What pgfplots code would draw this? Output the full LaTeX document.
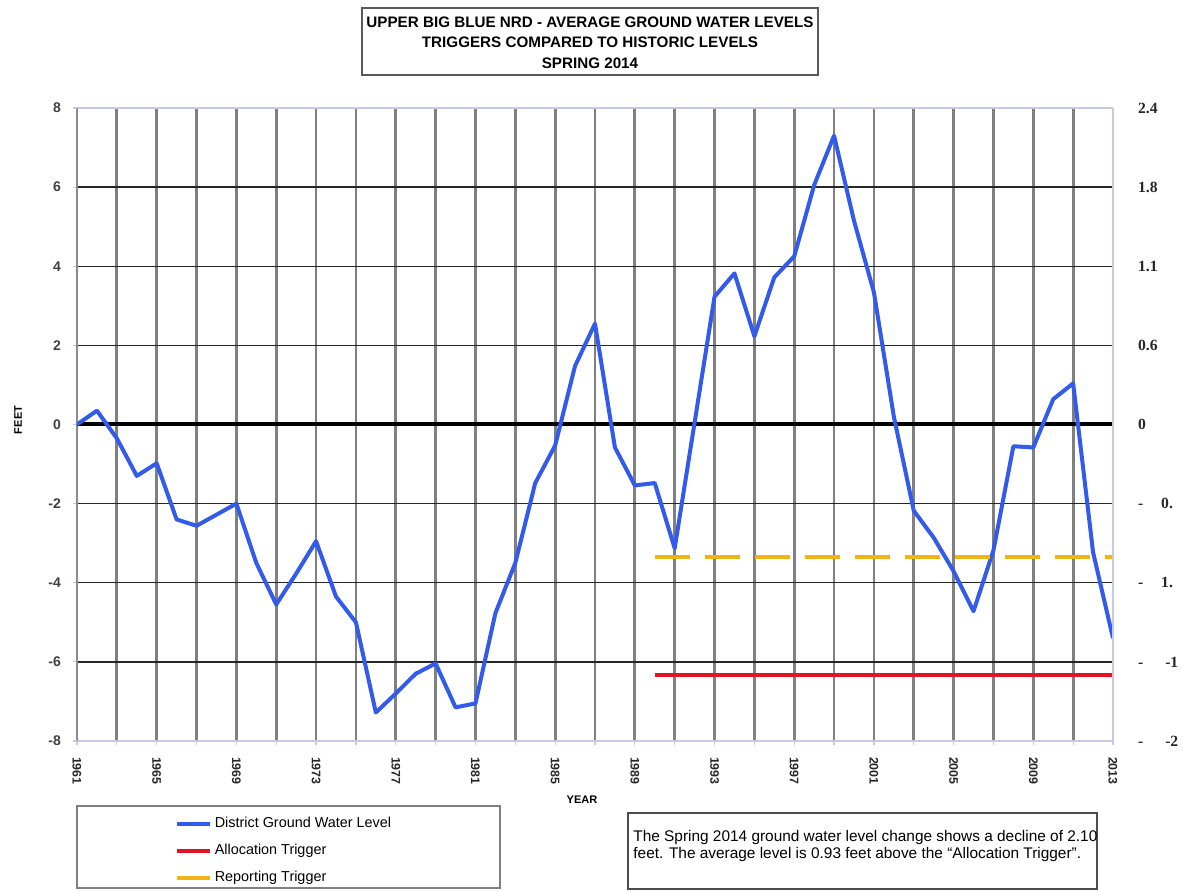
\documentclass[border=0pt]{standalone}
\usepackage{fontspec}
\setmainfont{Liberation Sans}
\newfontfamily\serifb{Liberation Serif}
\usepackage{pgfplots}
\pgfplotsset{compat=1.18}
\definecolor{wblue}{RGB}{50,90,235}
\definecolor{wred}{RGB}{225,20,35}
\definecolor{wgold}{RGB}{240,180,20}
\definecolor{lav}{RGB}{200,200,228}
\begin{document}
\begin{tikzpicture}
\useasboundingbox (0,0) rectangle (591.5pt,445pt);
\begin{axis}[
  at={(38.5pt,74.5pt)}, anchor=south west,
  scale only axis, width=518pt, height=316.5pt,
  xmin=1961, xmax=2013, ymin=-8, ymax=8,
  separate axis lines,
  x axis line style={draw=lav, line width=0.8pt},
  y axis line style={draw=black!45, line width=1pt},
  xtick={1961,1965,...,2013},
  minor xtick={1961,1963,...,2011},
  xmajorgrids=false, xminorgrids=true,
  ytick={-6,-4,...,6},
  extra y ticks={-8,8},
  extra y tick style={ymajorgrids=false},
  ymajorgrids=true,
  major grid style={black!85, line width=0.7pt},
  minor grid style={black!50, line width=1.4pt},
  xtick pos=bottom, ytick pos=left,
  tick align=outside, major tick length=2pt, minor tick length=2pt,
  tick style={draw=lav, line width=0.6pt},
  /pgf/number format/assume math mode=true,
  /pgf/number format/1000 sep={},
  xticklabel style={rotate=-90, anchor=west, font=\bfseries\fontsize{6.2}{7}\selectfont, text=black!85},
  xticklabel shift=2.5pt,
  yticklabel style={font=\bfseries\fontsize{7}{8}\selectfont, text=black!75},
  yticklabel shift=2.5pt,
  legend style={at={(rel axis cs:0.0946,-0.1165)}, anchor=north west, draw=none, fill=none,
    font=\fontsize{7.2}{8}\selectfont, row sep=4.2pt, inner sep=0pt,
    nodes={inner sep=1.2pt}},
  legend cell align=left,
  legend image code/.code={\draw[#1,solid] (0pt,0pt) -- (16.5pt,0pt);},
]
\addplot[black, line width=2pt, forget plot] coordinates {(1961,0) (2013,0)};
\addplot[wblue, line width=2pt, line join=round] coordinates {
(1961,0) (1962,0.35) (1963,-0.35) (1964,-1.3) (1965,-0.98) (1966,-2.4) (1967,-2.56)
(1968,-2.28) (1969,-2.0) (1970,-3.5) (1971,-4.55) (1972,-3.77) (1973,-2.95) (1974,-4.35)
(1975,-5.0) (1976,-7.28) (1977,-6.8) (1978,-6.3) (1979,-6.04) (1980,-7.15) (1981,-7.05)
(1982,-4.77) (1983,-3.5) (1984,-1.48) (1985,-0.53) (1986,1.48) (1987,2.55) (1988,-0.58)
(1989,-1.54) (1990,-1.48) (1991,-3.13) (1992,0.05) (1993,3.23) (1994,3.82) (1995,2.23)
(1996,3.72) (1997,4.25) (1998,6.05) (1999,7.3) (2000,5.15) (2001,3.34) (2002,0.2)
(2003,-2.18) (2004,-2.86) (2005,-3.71) (2006,-4.72) (2007,-3.18) (2008,-0.55) (2009,-0.58)
(2010,0.64) (2011,1.04) (2012,-3.23) (2013,-5.4)};
\addlegendentry{District Ground Water Level}
\addplot[wred, line width=2pt] coordinates {(1990,-6.33) (2013,-6.33)};
\addlegendentry{Allocation Trigger}
\addplot[wgold, line width=2pt, dash pattern=on 17.5pt off 7.5pt] coordinates {(1990,-3.34) (2013,-3.34)};
\addlegendentry{Reporting Trigger}
\end{axis}
\begin{axis}[
  at={(38.5pt,74.5pt)}, anchor=south west,
  scale only axis, width=518pt, height=316.5pt,
  xmin=1961, xmax=2013, ymin=-8, ymax=8,
  axis x line=none, axis y line*=right,
  y axis line style={draw=lav, line width=0.8pt},
  ytick={-8,-6,...,8},
  yticklabels={{-\hspace{11pt}-2},{-\hspace{11pt}-1},{-\hspace{9pt}1.},{-\hspace{9pt}0.},0,0.6,1.1,1.8,2.4},
  major tick length=0pt,
  yticklabel style={font=\serifb\bfseries\fontsize{7.8}{9}\selectfont, anchor=west, text=black!85},
  yticklabel shift=9pt,
]
\addplot[draw=none, forget plot] coordinates {(1961,0)};
\end{axis}
% title box
\draw[black!65, line width=1pt] (181pt,407.5pt) rectangle (409pt,441pt);
\node[font=\bfseries\fontsize{7.6}{8}\selectfont, anchor=base, inner sep=0pt] at (295pt,431.3pt) {UPPER BIG BLUE NRD - AVERAGE GROUND WATER LEVELS};
\node[font=\bfseries\fontsize{7.6}{8}\selectfont, anchor=base, inner sep=0pt] at (295pt,421.2pt) {TRIGGERS COMPARED TO HISTORIC LEVELS};
\node[font=\bfseries\fontsize{7.6}{8}\selectfont, anchor=base, inner sep=0pt] at (295pt,410.8pt) {SPRING 2014};
% axis titles
\node[font=\bfseries\fontsize{5.5}{6}\selectfont, rotate=90] at (9pt,235pt) {FEET};
\node[font=\bfseries\fontsize{5.5}{6}\selectfont] at (291pt,45pt) {YEAR};
% legend box
\draw[black!50, line width=1pt] (38.5pt,1pt) rectangle (250pt,42pt);
% text box
\draw[black!70, line width=0.9pt] (314pt,0.5pt) rectangle (548.5pt,38.5pt);
\node[font=\fontsize{7.7}{8}\selectfont, anchor=base west, inner sep=0pt] at (316.5pt,24.5pt) {The Spring 2014 ground water level change shows a decline of 2.10};
\node[font=\fontsize{7.7}{8}\selectfont, anchor=base west, inner sep=0pt] at (316.5pt,16pt) {feet. The average level is 0.93 feet above the “Allocation Trigger”.};
\end{tikzpicture}
\end{document}
